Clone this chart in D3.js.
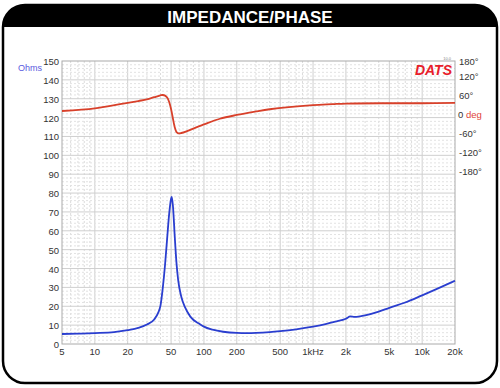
<!DOCTYPE html>
<html>
<head>
<meta charset="utf-8">
<script src="https://cdn.jsdelivr.net/npm/d3@7"></script>
<style>
  body { margin: 0; background: #fff; }
  svg { display: block; font-family: "Liberation Sans", Arial, sans-serif; }
</style>
</head>
<body>
<div id="chart-wrapper"></div>
<script>
// impedance curve (Hz, ohms)
const impFreq = [5, 7, 10, 15, 20, 25, 30, 35, 38, 40, 42, 44, 46, 48, 50, 50.7, 52, 54, 56, 58, 62, 67, 75, 92, 100, 120, 150, 200, 250, 300, 400, 500, 700, 1000, 1300, 1600, 2000, 2200, 2400, 2700, 3000, 4000, 5000, 7000, 10000, 14000, 20000];
const impOhms = [5.3, 5.5, 5.8, 6.3, 7.3, 8.5, 10.3, 13, 16.5, 20.5, 30, 42, 56, 69, 77, 78, 73, 57, 43, 34, 25, 19.5, 14.5, 10.5, 9.2, 7.6, 6.5, 5.9, 5.8, 5.9, 6.3, 6.8, 7.8, 9.2, 10.5, 11.8, 13.4, 14.6, 14.4, 14.7, 15.2, 17.2, 19.2, 22, 25.8, 29.5, 33.5];

// phase curve (Hz, degrees)
const phaseFreq = [5, 10, 17, 25, 30, 35, 40, 42, 44, 46, 48, 50, 52, 54, 56, 58, 62, 70, 85, 100, 140, 200, 300, 400, 600, 1000, 1500, 2000, 5000, 10000, 20000];
const phaseDeg = [9.5, 18, 31, 41, 46, 53, 59, 60, 58, 52, 38, 15, -15, -42, -57, -61, -60, -54, -42, -33, -15, -3, 8, 15, 22, 28, 31, 33, 34, 34, 35];

// tick labels
const xTicks = [5, 10, 20, 50, 100, 200, 500, 1000, 2000, 5000, 10000, 20000];
const xLabels = ["5", "10", "20", "50", "100", "200", "500", "1kHz", "2k", "5k", "10k", "20k"];
const ohmTicks = [0, 10, 20, 30, 40, 50, 60, 70, 80, 90, 100, 110, 120, 130, 140, 150];
const degTicks = [180, 120, 60, 0, -60, -120, -180];

const W = 500, H = 388;
const plot = { left: 62, right: 455, top: 61, bottom: 344 };

const svg = d3.select("#chart-wrapper").append("svg")
  .attr("width", W).attr("height", H);

// frame with rounded corners and black header
const frame = { x: 3, y: 5, w: 494, h: 378, r: 22 };
svg.append("clipPath").attr("id", "frameClip")
  .append("rect")
  .attr("x", frame.x).attr("y", frame.y)
  .attr("width", frame.w).attr("height", frame.h)
  .attr("rx", frame.r);
svg.append("rect")
  .attr("clip-path", "url(#frameClip)")
  .attr("x", frame.x).attr("y", frame.y)
  .attr("width", frame.w).attr("height", 22)
  .attr("fill", "#000");
svg.append("rect")
  .attr("x", frame.x).attr("y", frame.y)
  .attr("width", frame.w).attr("height", frame.h)
  .attr("rx", frame.r)
  .attr("fill", "none").attr("stroke", "#000").attr("stroke-width", 2.5);
svg.append("text")
  .attr("x", 250).attr("y", 23)
  .attr("text-anchor", "middle")
  .attr("fill", "#fff").attr("font-weight", "bold").attr("font-size", 17)
  .text("IMPEDANCE/PHASE");

// scales
const x = d3.scaleLog().domain([5, 20000]).range([plot.left, plot.right]);
const y = d3.scaleLinear().domain([0, 150]).range([plot.bottom, plot.top]);
const yP = d3.scaleLinear().domain([-180, 180]).range([171, 57]);

// grid
const grid = svg.append("g");
let minorX = [];
[1, 10, 100, 1000, 10000].forEach(dec => {
  for (let m = 1; m <= 9; m++) {
    const f = dec * m;
    if (f > 5 && f < 20000) minorX.push(f);
  }
});
grid.selectAll(".vminor").data(minorX.filter(f => !xTicks.includes(f))).join("line")
  .attr("x1", d => x(d)).attr("x2", d => x(d))
  .attr("y1", plot.top).attr("y2", plot.bottom)
  .attr("stroke", "#dcdcdc").attr("stroke-dasharray", "2,2");
grid.selectAll(".vmajor").data(xTicks.slice(1, -1)).join("line")
  .attr("x1", d => x(d)).attr("x2", d => x(d))
  .attr("y1", plot.top).attr("y2", plot.bottom)
  .attr("stroke", "#cfcfcf");
grid.selectAll(".hminor").data(d3.range(2, 150, 2).filter(v => v % 10 !== 0)).join("line")
  .attr("x1", plot.left).attr("x2", plot.right)
  .attr("y1", d => y(d)).attr("y2", d => y(d))
  .attr("stroke", "#e2e2e2").attr("stroke-dasharray", "2,2");
grid.selectAll(".hmajor").data(ohmTicks.slice(1, -1)).join("line")
  .attr("x1", plot.left).attr("x2", plot.right)
  .attr("y1", d => y(d)).attr("y2", d => y(d))
  .attr("stroke", "#cfcfcf");
svg.append("rect")
  .attr("x", plot.left).attr("y", plot.top)
  .attr("width", plot.right - plot.left).attr("height", plot.bottom - plot.top)
  .attr("fill", "none").attr("stroke", "#aaa");

// axis labels
svg.append("g").selectAll("text").data(ohmTicks).join("text")
  .attr("x", plot.left - 3).attr("y", d => y(d) + 4)
  .attr("text-anchor", "end").attr("font-size", 9.5).attr("fill", "#333")
  .text(d => d);
svg.append("text")
  .attr("x", 42).attr("y", 71)
  .attr("text-anchor", "end")
  .attr("font-size", 9).attr("fill", "#5a5ae0")
  .text("Ohms");
svg.append("g").selectAll("text").data(xTicks).join("text")
  .attr("x", d => x(d)).attr("y", 355)
  .attr("text-anchor", "middle").attr("font-size", 9.5).attr("fill", "#333")
  .text((d, i) => xLabels[i]);

const degG = svg.append("g");
degG.selectAll("text").data(degTicks.filter(d => d !== 0)).join("text")
  .attr("x", plot.right + 4).attr("y", d => Math.max(yP(d), 61) + 4)
  .attr("font-size", 9.5).attr("fill", "#333")
  .text(d => d + "°");
const zeroLbl = degG.append("text")
  .attr("x", plot.right + 3).attr("y", yP(0) + 4)
  .attr("font-size", 9.5).attr("fill", "#333");
zeroLbl.append("tspan").text("0 ");
zeroLbl.append("tspan").attr("fill", "#e0443a").text("deg");

// logo
svg.append("text")
  .attr("x", 452).attr("y", 75)
  .attr("text-anchor", "end")
  .attr("font-size", 14).attr("font-weight", "bold").attr("font-style", "italic")
  .attr("fill", "#e8202a")
  .text("DATS");
svg.append("text")
  .attr("x", 451).attr("y", 60)
  .attr("text-anchor", "end").attr("font-size", 4).attr("fill", "#888")
  .text("10.0");

// curves
const phaseLine = d3.line()
  .x((d, i) => x(phaseFreq[i]))
  .y(d => yP(d))
  .curve(d3.curveCatmullRom.alpha(0.5));
svg.append("path")
  .datum(phaseDeg)
  .attr("d", phaseLine)
  .attr("fill", "none").attr("stroke", "#d8402a").attr("stroke-width", 1.8);

const impLine = d3.line()
  .x((d, i) => x(impFreq[i]))
  .y(d => y(d))
  .curve(d3.curveMonotoneX);
svg.append("path")
  .datum(impOhms)
  .attr("d", impLine)
  .attr("fill", "none").attr("stroke", "#2a3ecf").attr("stroke-width", 1.8);
</script>
</body>
</html>
